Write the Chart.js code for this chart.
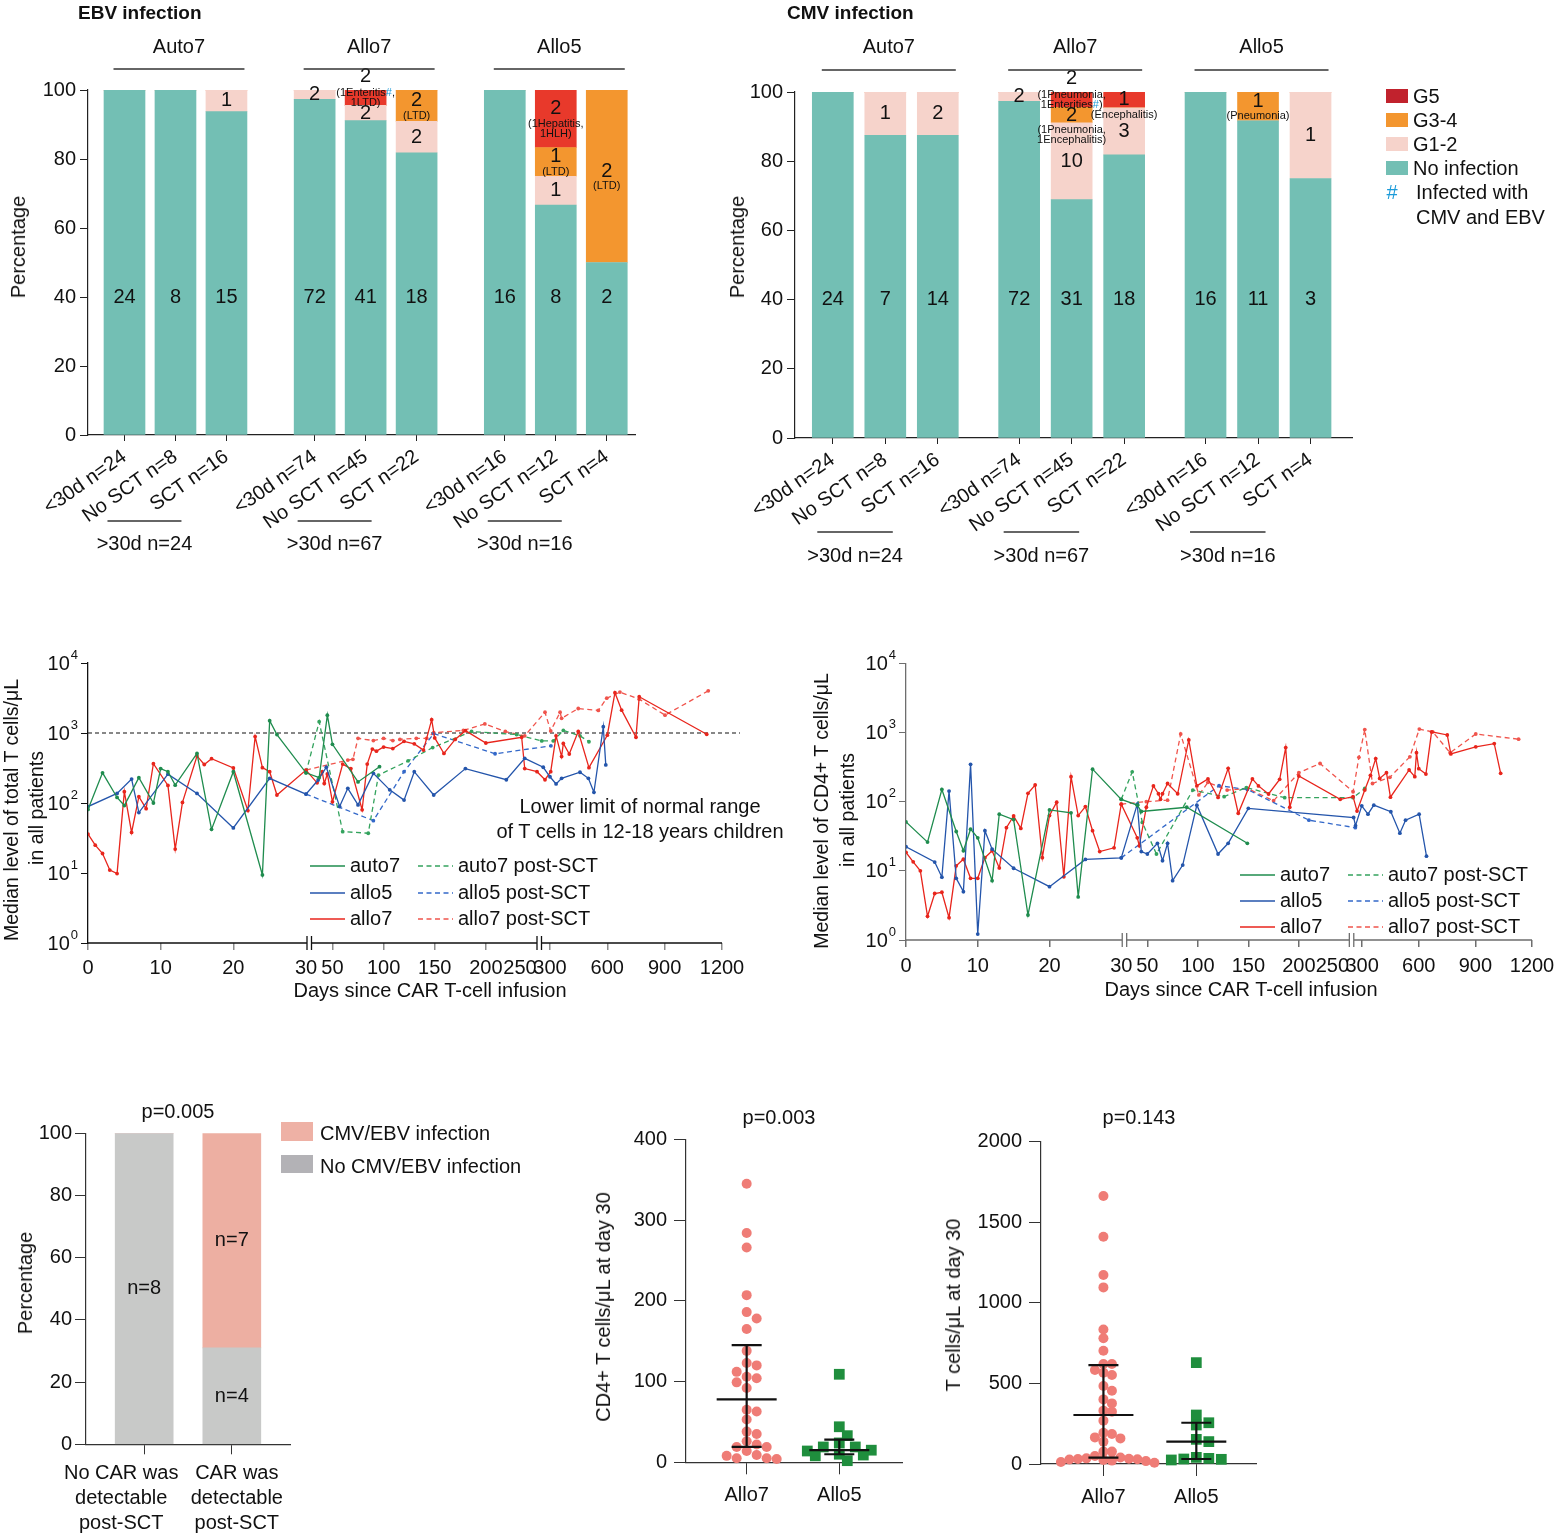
<!DOCTYPE html>
<html><head><meta charset="utf-8"><title>CAR-T infections and T-cell recovery</title>
<script src="https://cdn.jsdelivr.net/npm/chart.js@4.4.1/dist/chart.umd.min.js"></script>
<style>
html,body{margin:0;padding:0;background:#fff;}
body{position:relative;width:1556px;height:1538px;overflow:hidden;font-family:"Liberation Sans",Arial,Helvetica,sans-serif;color:#111;}
canvas{position:absolute;}
.t{position:absolute;white-space:nowrap;line-height:1;color:#111;}
.sw{position:absolute;}
</style></head><body>
<script>
// ================= DATA =================
// Panels A/B: stacked infection bars (counts per bar)
const barGroups = ['Auto7','Allo7','Allo5'];
const barCats = ['<30d n=24','No SCT n=8','SCT n=16','<30d n=74','No SCT n=45','SCT n=22','<30d n=16','No SCT n=12','SCT n=4'];
const barTotals = [24,8,16,74,45,22,16,12,4];
const after30Labels = ['>30d n=24','>30d n=67','>30d n=16'];
const ebvNoInf = [24,8,15,72,41,18,16,8,2];
const ebvG12   = [0,0,1,2,2,2,0,1,0];
const ebvG34   = [0,0,0,0,0,2,0,1,2];
const ebvG5    = [0,0,0,0,2,0,0,2,0];
const ebvG34Note = ['','','','','','(LTD)','','(LTD)','(LTD)'];
const ebvG5Note  = ['','','','','(1Enteritis#,\n1LTD)','','','(1Hepatitis,\n1HLH)',''];
const cmvNoInf = [24,7,14,72,31,18,16,11,3];
const cmvG12   = [0,1,2,2,10,3,0,0,1];
const cmvG34   = [0,0,0,0,2,0,0,1,0];
const cmvG5    = [0,0,0,0,2,1,0,0,0];
const cmvG34Note = ['','','','','(1Pneumonia,\n1Encephalitis)','','','(Pneumonia)',''];
const cmvG5Note  = ['','','','','(1Pneumonia,\n1Enterities#)','(Encephalitis)','','',''];
const gradeLegend = ['G5','G3-4','G1-2','No infection'];

// Panels C/D: median T cells [day, cells/uL]
const xTickDays = [0,10,20,30,50,100,150,200,250,300,600,900,1200];
const seriesNames = ['auto7','allo5','allo7','auto7 post-SCT','allo5 post-SCT','allo7 post-SCT'];
const tAuto7 = [[0,81],[2,270],[4,120],[5,92],[7,230],[9,100],[10,310],[11,280],[12,180],[15,510],[17,42],[20,280],[24,9.4],[25,1500],[26,950],[30,270],[37,230],[45,1800],[50,690],[75,200],[96,330]];
const tAllo5 = [[0,89],[4,137],[6,220],[7,73],[11,258],[15,137],[20,44],[25,225],[30,134],[36,213],[44,324],[57,89],[65,162],[75,94],[90,265],[106,154],[120,110],[130,280],[149,130],[180,310],[220,215],[238,435],[265,324],[300,237],[332,187],[361,225],[457,275],[501,225],[530,142],[579,1230],[592,350]];
const tAllo7 = [[0,36],[1,25],[2,19],[3,11],[4,9.8],[5,145],[6,38],[7,123],[8,83],[9,365],[11,178],[12,22],[13,102],[15,470],[16,355],[17,430],[20,316],[22,78],[23,890],[24,320],[25,280],[26,130],[30,295],[35,194],[40,280],[42,190],[45,260],[50,104],[60,360],[68,310],[79,80],[84,360],[89,590],[93,550],[100,630],[109,600],[120,760],[130,700],[139,570],[147,1550],[150,850],[159,510],[170,810],[180,1080],[200,720],[235,870],[238,310],[250,280],[274,215],[304,280],[332,910],[361,460],[370,710],[401,500],[448,1050],[504,320],[600,930],[640,3770],[675,2120],[750,870],[767,3300],[1120,960]];
const tAuto7Post = [[30,270],[37,1450],[60,39],[85,37],[95,250],[124,400],[148,620],[186,1050],[230,950],[257,770],[318,770],[370,1090],[457,910],[504,750]];
const tAllo5Post = [[30,134],[90,56],[120,280],[149,980],[209,505],[305,655]];
const tAllo7Post = [[30,295],[65,410],[70,420],[75,840],[90,780],[100,840],[109,780],[116,810],[132,840],[142,840],[149,1010],[178,1090],[199,1350],[219,1050],[238,910],[274,1980],[304,1070],[353,1980],[361,1620],[448,2240],[553,2100],[597,3140],[666,3840],[767,3040],[902,1800],[1128,4000]];
const tNormalLower = 1000;

const cAuto7 = [[0,51],[3,26],[5,150],[7,37],[8,19.5],[9,40],[10,30],[12,7.2],[13,66],[15,55],[17,2.3],[20,76],[23,69],[24,4.2],[26,295],[30,108],[40,89],[44,72],[89,83],[149,25]];
const cAllo5 = [[0,22.3],[4,13.4],[5,8.1],[6,142],[7,7.8],[8,5.0],[9,346],[10,1.22],[11,38],[12,20.6],[15,10.9],[20,5.9],[25,14.6],[30,15.4],[40,92],[44,19],[50,17.5],[60,25],[65,14],[70,25],[75,7.2],[85,12.1],[99,89],[120,17.5],[130,25],[150,80],[255,59],[265,45],[298,87],[331,66],[362,89],[452,71.5],[500,35],[530,54],[602,66],[641,16.3]];
const cAllo7 = [[0,18.5],[1,13.5],[2,10],[3,2.2],[4,4.7],[5,4.9],[6,2.1],[7,11.8],[8,14.7],[9,7.8],[10,7.8],[11,15.5],[12,19.5],[13,11],[14,42],[15,62],[16,41],[17,132],[18,174],[19,15.5],[20,63],[21,98],[22,8.2],[23,230],[24,63],[25,85],[26,38],[27,19],[29,21.5],[30,92],[40,30],[42,23],[49,83],[56,169],[61,130],[63,108],[65,130],[70,183],[80,130],[91,780],[99,169],[110,213],[120,115],[130,303],[140,68],[154,213],[160,169],[170,129],[181,210],[187,605],[191,83],[200,235],[241,108],[252,118],[273,73],[314,147],[344,240],[372,420],[393,217],[429,262],[450,116],[549,287],[579,230],[588,510],[600,300],[638,250],[668,1020],[751,920],[770,490],[902,620],[1000,690],[1034,257]];
const cAuto7Post = [[30,108],[35,270],[45,50],[59,17.5],[95,147],[126,118],[148,160],[186,114],[252,114],[314,155]];
const cAllo5Post = [[30,15.4],[121,170],[149,150],[210,54],[264,42]];
const cAllo7Post = [[30,92],[49,100],[70,105],[83,950],[101,125],[110,190],[129,147],[149,155],[175,103],[200,262],[221,356],[252,139],[283,437],[314,1100],[355,183],[447,225],[553,445],[603,1120],[674,1020],[766,510],[902,950],[1129,800]];

// Panel E: CAR detectability vs infection
const blCats = [['No CAR was','detectable','post-SCT'],['CAR was','detectable','post-SCT']];
const blNoInfPct = [100,31];
const blInfPct = [0,69];
const blNoInfN = ['n=8','n=4'];
const blInfN = ['','n=7'];
const blLegend = ['CMV/EBV infection','No CMV/EBV infection'];

// Panels F/G: day-30 counts
const dotCats = ['Allo7','Allo5'];
const cd4Allo7 = [345,284,266,207,186,178,165,138,123,120,112,106,104,99,92,65,63,53,38,35,26,22,19,19,14,9,8,5,5,4];
const cd4Allo5 = [109,44,33,24,19,19,15,14,10,9,8,2];
const cd4Allo7Stats = [19,78,145];
const cd4Allo5Stats = [10,15,28];
const tcAllo7 = [1663,1410,1173,1096,835,780,703,620,620,583,567,552,484,455,401,376,331,325,269,194,186,165,159,139,77,77,50,40,35,33,31,30,28,25,21,18,12,8];
const tcAllo5 = [629,304,256,242,153,139,41,35,31,29,25];
const tcAllo7Stats = [40,304,614];
const tcAllo5Stats = [31,139,256];
const pValues = ['p=0.005','p=0.003','p=0.143'];

// ================= RENDER =================
const FONT = '"Liberation Sans", Arial, Helvetica, sans-serif';
Chart.defaults.font.family = FONT;
Chart.defaults.color = '#111';

function mkCanvas(l,t,w,h){const c=document.createElement('canvas');c.width=w;c.height=h;c.style.left=l+'px';c.style.top=t+'px';c.style.width=w+'px';c.style.height=h+'px';document.body.appendChild(c);return c;}
function addText(txt,x,y,o={}){const d=document.createElement('div');d.className='t';d.textContent=txt;d.style.left=x+'px';d.style.top=y+'px';d.style.fontSize=(o.size||20)+'px';if(o.bold)d.style.fontWeight='bold';if(o.color)d.style.color=o.color;const ax=o.align==='left'?'0%':'-50%';d.style.transform='translate('+ax+',-50%)'+(o.rot?' rotate('+o.rot+'deg)':'');document.body.appendChild(d);return d;}
function addSwatch(x,y,w,h,c){const d=document.createElement('div');d.className='sw';d.style.left=x+'px';d.style.top=y+'px';d.style.width=w+'px';d.style.height=h+'px';d.style.background=c;document.body.appendChild(d);}
function drawRich(ctx,text,x,y){const parts=text.split('#');const hw=ctx.measureText('#').width;const total=parts.reduce((s,p)=>s+ctx.measureText(p).width,0)+hw*(parts.length-1);let cx=x-total/2;ctx.textAlign='left';parts.forEach((p,i)=>{ctx.fillStyle='#111';ctx.fillText(p,cx,y);cx+=ctx.measureText(p).width;if(i<parts.length-1){ctx.fillStyle='#1c9bd9';ctx.fillText('#',cx,y);cx+=hw;}});ctx.textAlign='center';ctx.fillStyle='#111';}

const SEG = {noInf:'#73bfb4', g12:'#f6d3cb', g34:'#f3962f', g5:'#e8392b', g5leg:'#c1222d'};

function barPanel(c,d,cfg){
  const pos=i=>cfg.first+Math.floor(i/3)*cfg.step+(i%3);
  const mk=(arr,color,label)=>({label,data:arr.map((v,i)=>({x:pos(i),y:v/barTotals[i]*100})),backgroundColor:color,borderWidth:0,barThickness:41});
  const plugin={id:'barLabels',afterDraw(chart){
    const ctx=chart.ctx,xs=chart.scales.x,ys=chart.scales.y;
    ctx.save();ctx.textBaseline='middle';ctx.textAlign='center';ctx.fillStyle='#111';
    for(let i=0;i<barTotals.length;i++){
      const x=xs.getPixelForValue(pos(i)),tot=barTotals[i];
      const segs=[[d.noInf[i],''],[d.g12[i],''],[d.g34[i],d.g34Note[i]],[d.g5[i],d.g5Note[i]]];
      let last=-1;segs.forEach((s,k)=>{if(s[0]>0)last=k;});
      let cum=0;
      segs.forEach(([n,note],k)=>{
        if(!n)return;
        const lo=cum/tot*100,hi=(cum+n)/tot*100;cum+=n;
        ctx.font='20px '+FONT;
        if(k===0){ctx.fillText(String(n),x,ys.getPixelForValue(40));return;}
        const yT=ys.getPixelForValue(hi),yB=ys.getPixelForValue(lo),yc=(yT+yB)/2,h=yB-yT;
        const lines=note?note.split('\n'):[];
        const bh=20+lines.length*10;let cy,ny;
        if(!lines.length){cy=yc;}
        else if(bh<=h*1.35){cy=yc-bh/2+10;ny=cy+15;}
        else if(k===last&&lines.length>1){ny=yc-(lines.length-1)*5;cy=ny-16;}
        else{cy=yc;ny=yc+15;}
        ctx.fillText(String(n),x,cy);
        ctx.font='11px '+FONT;
        lines.forEach((ln,j)=>drawRich(ctx,ln,x,ny+j*10));
      });
    }
    ctx.font='20px '+FONT;ctx.strokeStyle='#333';ctx.lineWidth=1.3;ctx.fillStyle='#111';
    barGroups.forEach((g,gi)=>{
      const x1=xs.getPixelForValue(pos(gi*3)),x2=xs.getPixelForValue(pos(gi*3+1)),x3=xs.getPixelForValue(pos(gi*3+2));
      const a=x1-11,b=x3+18;
      ctx.beginPath();ctx.moveTo(a,cfg.hdLineY);ctx.lineTo(b,cfg.hdLineY);ctx.stroke();
      ctx.fillText(g,(a+b)/2,cfg.hdY);
      const c1=x2-68,c2=x3-45;
      ctx.beginPath();ctx.moveTo(c1,cfg.brY);ctx.lineTo(c2,cfg.brY);ctx.stroke();
      ctx.fillText(after30Labels[gi],(c1+c2)/2,cfg.brTextY);
    });
    ctx.restore();
  }};
  new Chart(c,{type:'bar',data:{datasets:[mk(d.noInf,SEG.noInf,'No infection'),mk(d.g12,SEG.g12,'G1-2'),mk(d.g34,SEG.g34,'G3-4'),mk(d.g5,SEG.g5,'G5')]},
    options:{animation:false,responsive:false,events:[],
      layout:{padding:{left:0,top:cfg.padTop,right:cfg.padRight,bottom:0}},
      plugins:{legend:{display:false},tooltip:{enabled:false}},
      scales:{
        x:{type:'linear',stacked:true,min:0,max:cfg.xMax,offset:false,
          afterFit(s){s.height=cfg.xh;},
          afterBuildTicks(s){s.ticks=barCats.map((c,i)=>({value:pos(i)}));},
          ticks:{autoSkip:false,minRotation:35,maxRotation:35,font:{size:20},color:'#111',padding:4,callback:(v,i)=>barCats[i]},
          grid:{display:true,drawOnChartArea:false,offset:false,tickLength:6,color:'#222'},border:{color:'#222',width:1.2}},
        y:{stacked:true,min:0,max:100,
          afterFit(s){s.width=cfg.yw;},
          ticks:{stepSize:20,font:{size:20},color:'#111',padding:4},
          grid:{drawOnChartArea:false,tickLength:8,color:'#222'},border:{color:'#222',width:1.2}}
      }},plugins:[plugin]});
}

barPanel(mkCanvas(0,0,700,600),{noInf:ebvNoInf,g12:ebvG12,g34:ebvG34,g5:ebvG5,g34Note:ebvG34Note,g5Note:ebvG5Note},
  {yw:88,padTop:90,padRight:65,xh:165,first:0.716,step:3.73,xMax:10.73,hdY:47,hdLineY:69,brY:521,brTextY:544});
barPanel(mkCanvas(700,0,856,600),{noInf:cmvNoInf,g12:cmvG12,g34:cmvG34,g5:cmvG5,g34Note:cmvG34Note,g5Note:cmvG5Note},
  {yw:95,padTop:92,padRight:204,xh:162,first:0.72,step:3.55,xMax:10.61,hdY:47,hdLineY:70,brY:532,brTextY:556});

// ---- line charts with broken x-axis ----
function dayToU(d){if(d<=30)return d*218/30;if(d<=250)return 224+(d-30)*225/220;return 452.4+(d-250)*181.6/950;}
const xLabelShift={250:-17};
const COL={auto7:'#1f8c4e',allo5:'#2455ab',allo7:'#e8251c',auto7p:'#34a35e',allo5p:'#3368c9',allo7p:'#f0544c'};
const serCols=[COL.auto7,COL.allo5,COL.allo7,COL.auto7p,COL.allo5p,COL.allo7p];

function linePlugin(cfg){
  return {id:'lp',
    beforeDatasetsDraw(chart){
      if(!cfg.refLine)return;
      const ctx=chart.ctx,ca=chart.chartArea,y=chart.scales.y.getPixelForValue(cfg.refLine);
      ctx.save();ctx.strokeStyle='#111';ctx.lineWidth=1.2;ctx.setLineDash([4,3]);ctx.beginPath();ctx.moveTo(ca.left,y);ctx.lineTo(ca.right+18,y);ctx.stroke();ctx.restore();
    },
    afterDraw(chart){
      const ctx=chart.ctx,ca=chart.chartArea,xs=chart.scales.x,ys=chart.scales.y;
      const P=u=>xs.getPixelForValue(u),yb=ca.bottom;
      ctx.save();
      ctx.strokeStyle=cfg.axisColor;ctx.lineWidth=1.3;
      ctx.beginPath();
      [[0,219],[223.5,449],[453.5,634]].forEach(([a,b])=>{ctx.moveTo(P(a),yb);ctx.lineTo(P(b),yb);});
      [219,223.5,449,453.5].forEach(u=>{ctx.moveTo(P(u),yb-7);ctx.lineTo(P(u),yb+7);});
      ctx.stroke();
      ctx.fillStyle='#111';ctx.textAlign='center';ctx.textBaseline='middle';ctx.font='20px '+FONT;
      xTickDays.forEach(d=>{ctx.fillText(String(d),P(dayToU(d))+(xLabelShift[d]||0),yb+cfg.xLabelDy);});
      [1,10,100,1000,10000].forEach((v,k)=>{
        const y=ys.getPixelForValue(v);ctx.font='13px '+FONT;const sw=ctx.measureText(String(k)).width;const xr=ca.left-10;
        ctx.textAlign='left';ctx.fillText(String(k),xr-sw,y-8);
        ctx.font='20px '+FONT;ctx.textAlign='right';ctx.fillText('10',xr-sw-1,y+1);
      });
      ctx.font='20px '+FONT;ctx.textAlign='left';ctx.lineWidth=1.3;
      for(let col=0;col<2;col++){
        for(let r=0;r<3;r++){
          const k=col*3+r,x=col?cfg.legend.x2:cfg.legend.x1,y=cfg.legend.ys[r];
          ctx.strokeStyle=serCols[k];ctx.setLineDash(col?[5,3.5]:[]);
          ctx.beginPath();ctx.moveTo(x,y);ctx.lineTo(x+35,y);ctx.stroke();
          ctx.fillStyle='#111';ctx.fillText(seriesNames[k],x+40,y);
        }
      }
      ctx.setLineDash([]);
      ctx.restore();
    }};
}

function lineChart(c,series,cfg){
  const datasets=series.map((s,k)=>({label:seriesNames[k],data:s.map(([d,v])=>({x:dayToU(d),y:v})),borderColor:serCols[k],backgroundColor:serCols[k],borderWidth:1.3,borderDash:k>=3?[5,3.5]:[],pointRadius:1.9,pointBorderWidth:0,pointHoverRadius:0,tension:0,fill:false}));
  new Chart(c,{type:'line',data:{datasets},
    options:{animation:false,responsive:false,events:[],
      layout:{padding:{left:0,top:cfg.padTop,right:cfg.padRight,bottom:0}},
      plugins:{legend:{display:false},tooltip:{enabled:false}},
      scales:{
        x:{type:'linear',min:0,max:634,
          afterFit(s){s.height=cfg.xh;},
          afterBuildTicks(s){s.ticks=xTickDays.map(d=>({value:dayToU(d)}));},
          ticks:{display:false},
          grid:{drawOnChartArea:false,tickLength:7,lineWidth:1.5,color:c=>(c.tick&&(Math.abs(c.tick.value-218)<0.5||Math.abs(c.tick.value-449)<0.5))?'rgba(0,0,0,0)':cfg.tickColor},
          border:{display:false}},
        y:{type:'logarithmic',min:1,max:10000,
          afterFit(s){s.width=cfg.yw;},
          afterBuildTicks(s){s.ticks=[1,10,100,1000,10000].map(v=>({value:v}));},
          ticks:{display:false},
          grid:{drawOnChartArea:false,tickLength:7,color:cfg.axisColor},border:{color:cfg.axisColor,width:1.3}}
      }},plugins:[linePlugin(cfg)]});
}
lineChart(mkCanvas(0,620,780,400),[tAuto7,tAllo5,tAllo7,tAuto7Post,tAllo5Post,tAllo7Post],
  {yw:88,padTop:43,padRight:58,xh:77,axisColor:'#111',tickColor:'#8c8c8c',refLine:tNormalLower,xLabelDy:25,legend:{x1:310,x2:418,ys:[246,273,299]}});
lineChart(mkCanvas(780,620,776,400),[cAuto7,cAllo5,cAllo7,cAuto7Post,cAllo5Post,cAllo7Post],
  {yw:126,padTop:43.3,padRight:24,xh:80,axisColor:'#6e6e6e',tickColor:'#6e6e6e',refLine:null,xLabelDy:26,legend:{x1:460,x2:568,ys:[255,281,307]}});

// ---- Panel E ----
(function(){
  const c=mkCanvas(0,1090,580,448);
  const labelShift=[-23,5];
  const plugin={id:'blLabels',afterDraw(chart){
    const ctx=chart.ctx,xs=chart.scales.x,ys=chart.scales.y,ca=chart.chartArea;ctx.save();ctx.font='20px '+FONT;ctx.textAlign='center';ctx.textBaseline='middle';ctx.fillStyle='#111';
    blNoInfPct.forEach((v,i)=>{const x=xs.getPixelForValue(i);if(blNoInfN[i])ctx.fillText(blNoInfN[i],x,ys.getPixelForValue(v/2));if(blInfN[i])ctx.fillText(blInfN[i],x,ys.getPixelForValue(v+blInfPct[i]/2));});
    blCats.forEach((lines,i)=>{const x=xs.getPixelForValue(i)+labelShift[i];lines.forEach((ln,j)=>ctx.fillText(ln,x,ca.bottom+29+j*25));});
    ctx.restore();}};
  new Chart(c,{type:'bar',data:{datasets:[
      {label:blLegend[1],data:blNoInfPct.map((v,i)=>({x:i,y:v})),backgroundColor:'#c8c9c8',borderWidth:0,barThickness:58},
      {label:blLegend[0],data:blInfPct.map((v,i)=>({x:i,y:v})),backgroundColor:'#edafa2',borderWidth:0,barThickness:58}]},
    options:{animation:false,responsive:false,events:[],
      layout:{padding:{left:0,top:43.3,right:290,bottom:0}},
      plugins:{legend:{display:false},tooltip:{enabled:false}},
      scales:{
        x:{type:'linear',stacked:true,min:-0.664,max:1.664,offset:false,
          afterFit(s){s.height=93.7;},
          afterBuildTicks(s){s.ticks=[{value:0},{value:1}];},
          ticks:{display:false},
          grid:{drawOnChartArea:false,offset:false,tickLength:10,color:'#333'},border:{color:'#333',width:1.2}},
        y:{stacked:true,min:0,max:100,afterFit(s){s.width=86;},
          ticks:{stepSize:20,font:{size:20},color:'#111',padding:3},
          grid:{drawOnChartArea:false,tickLength:11,color:'#333'},border:{color:'#333',width:1.2}}
      }},plugins:[plugin]});
})();

// ---- Panels F/G: dot plots ----
function swarm(vals,pxPerVal,minDist,step){
  const order=vals.map((v,i)=>i).sort((a,b)=>vals[b]-vals[a]);
  const placed=[],off=new Array(vals.length).fill(0);
  for(const i of order){
    const y=vals[i]*pxPerVal;
    for(let k=0;k<80;k++){
      const dx=(k%2?1:-1)*Math.ceil(k/2)*step;
      if(placed.every(p=>Math.hypot(p.x-dx,p.y-y)>=minDist)){off[i]=dx;placed.push({x:dx,y});break;}
    }
  }
  return off;
}
function dotPlot(c,a7,a5,stats,cfg){
  const ppv=cfg.plotH/cfg.ymax,ppx=cfg.plotW/(cfg.xmax-cfg.xmin);
  const o7=swarm(a7,ppv,cfg.d7,cfg.s7),o5=swarm(a5,ppv,cfg.d5,cfg.s5);
  const plugin={id:'err',afterDatasetsDraw(chart){
    const ctx=chart.ctx,xs=chart.scales.x,ys=chart.scales.y;ctx.save();ctx.strokeStyle='#111';ctx.lineWidth=2.2;
    stats.forEach((st,k)=>{const x=xs.getPixelForValue(k);const [lo,mid,hi]=st.map(v=>ys.getPixelForValue(v));
      ctx.beginPath();ctx.moveTo(x,lo);ctx.lineTo(x,hi);ctx.moveTo(x-30,mid);ctx.lineTo(x+30,mid);ctx.moveTo(x-15,lo);ctx.lineTo(x+15,lo);ctx.moveTo(x-15,hi);ctx.lineTo(x+15,hi);ctx.stroke();});
    ctx.restore();}};
  new Chart(c,{type:'scatter',data:{datasets:[
      {label:dotCats[0],data:a7.map((v,i)=>({x:0+o7[i]/ppx,y:v})),pointStyle:'circle',pointRadius:5,backgroundColor:'#ef7c76',borderWidth:0,clip:false},
      {label:dotCats[1],data:a5.map((v,i)=>({x:1+o5[i]/ppx,y:v})),pointStyle:'rect',pointRadius:7.6,backgroundColor:'#1f8e3d',borderWidth:0,clip:false}]},
    options:{animation:false,responsive:false,events:[],
      layout:{padding:{left:0,top:cfg.padTop,right:cfg.padRight,bottom:0}},
      plugins:{legend:{display:false},tooltip:{enabled:false}},
      scales:{
        x:{type:'linear',min:cfg.xmin,max:cfg.xmax,afterFit(s){s.height=cfg.xh;},
          afterBuildTicks(s){s.ticks=[{value:0},{value:1}];},
          ticks:{autoSkip:false,maxRotation:0,font:{size:20},color:'#111',padding:9,callback:(v,i)=>dotCats[i]},
          grid:{drawOnChartArea:false,tickLength:12,color:'#333'},border:{color:'#333',width:1.2}},
        y:{min:0,max:cfg.ymax,afterFit(s){s.width=cfg.yw;},
          ticks:{stepSize:cfg.ystep,font:{size:20},color:'#111',padding:7,callback:v=>String(v)},
          grid:{drawOnChartArea:false,tickLength:12,color:'#333'},border:{color:'#333',width:1.2}}
      }},plugins:[plugin]});
}
dotPlot(mkCanvas(580,1090,340,448),cd4Allo7,cd4Allo5,[cd4Allo7Stats,cd4Allo5Stats],
  {yw:106,padTop:49.3,padRight:18,xh:75.7,xmin:-0.655,xmax:1.677,ymax:400,ystep:100,plotH:323,plotW:216,d7:9.6,s7:10,d5:9,s5:8});
dotPlot(mkCanvas(920,1090,400,448),tcAllo7,tcAllo5,[tcAllo7Stats,tcAllo5Stats],
  {yw:121,padTop:51.7,padRight:63.3,xh:74,xmin:-0.672,xmax:1.65,ymax:2000,ystep:500,plotH:322.3,plotW:215.7,d7:8,s7:8.5,d5:9,s5:12.5});

// ---- static texts ----
addText('EBV infection',78,12,{bold:true,size:19,align:'left'});
addText('CMV infection',787,12,{bold:true,size:19,align:'left'});
addText('Percentage',18,247,{rot:-90});
addText('Percentage',737,247,{rot:-90});
const legCols=[SEG.g5leg,SEG.g34,SEG.g12,SEG.noInf];
gradeLegend.forEach((g,i)=>{addSwatch(1386,89+i*24,22,14,legCols[i]);addText(g,1413,96+i*24,{align:'left'});});
addText('#',1392,192,{color:'#1c9bd9'});
addText('Infected with',1416,192,{align:'left'});
addText('CMV and EBV',1416,217,{align:'left'});

addText('Median level of total T cells/μL',12,810,{rot:-90,size:19.5});
addText('in all patients',37,808,{rot:-90,size:19.5});
addText('Median level of CD4+ T cells/μL',822,811,{rot:-90,size:19.5});
addText('in all patients',848,810,{rot:-90,size:19.5});
addText('Days since CAR T-cell infusion',430,990);
addText('Days since CAR T-cell infusion',1241,989);
addText('Lower limit of normal range',640,806);
addText('of T cells in 12-18 years children',640,831);

addText(pValues[0],178,1111);
addSwatch(281,1122,32,19,'#eeb1a5');addText(blLegend[0],320,1133,{align:'left'});
addSwatch(281,1155,32,18,'#b3b2b6');addText(blLegend[1],320,1166,{align:'left'});
addText('Percentage',25,1283,{rot:-90});
addText(pValues[1],779,1117);
addText('CD4+ T cells/μL at day 30',603,1307,{rot:-90});
addText(pValues[2],1139,1117);
addText('T cells/μL at day 30',953,1305,{rot:-90});
</script>
</body></html>
